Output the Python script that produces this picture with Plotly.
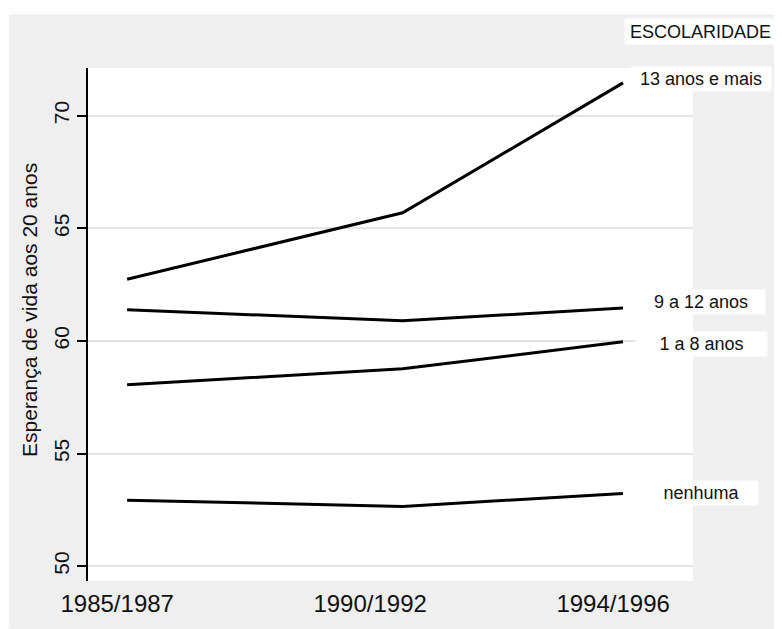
import plotly.graph_objects as go

# data
periodos = ["1985/1987", "1990/1992", "1994/1996"]
anos_meio = [1986, 1991, 1995]
series_nomes = ["13 anos e mais", "9 a 12 anos", "1 a 8 anos", "nenhuma"]
esc_13_mais = [62.74, 65.69, 71.46]
esc_9_12 = [61.38, 60.90, 61.46]
esc_1_8 = [58.05, 58.76, 59.96]
esc_nenhuma = [52.93, 52.65, 53.23]
y_ticks = [50, 55, 60, 65, 70]

OFF = 8  # page body margin
W, H = 782 - OFF, 629 - OFF
# plot area in page pixels
PL, PR, PT, PB = 88, 693, 68, 583
L, T = PL - OFF, PT - OFF
R, B = W - (PR - OFF), H - (PB - OFF)
pw, ph = W - L - R, H - T - B

def px2paper_x(px):  # page px -> paper
    return (px - OFF - L) / pw

def px2paper_y(py):
    return ((PB - OFF) - (py - OFF)) / ph

FONT = "Liberation Sans, Arial"

fig = go.Figure()
valores = [esc_13_mais, esc_9_12, esc_1_8, esc_nenhuma]
for nome, vals in zip(series_nomes, valores):
    fig.add_trace(go.Scatter(x=anos_meio, y=vals, mode="lines", name=nome,
                             line=dict(color="black", width=3), showlegend=False,
                             hoverinfo="x+y"))

# labels at the end of each line
label_w = {"13 anos e mais": 138, "9 a 12 anos": 126, "1 a 8 anos": 129, "nenhuma": 111}
label_dy = {"13 anos e mais": -4, "9 a 12 anos": -6, "1 a 8 anos": 2, "nenhuma": 0}
for nome, vals in zip(series_nomes, valores):
    fig.add_annotation(x=px2paper_x(701), xref="paper", y=vals[-1], yref="y",
                       text=nome, showarrow=False, xanchor="center", yanchor="middle",
                       yshift=-label_dy[nome], width=label_w[nome], height=22,
                       bgcolor="white", font=dict(family=FONT, size=18, color="#111"))

fig.add_annotation(x=px2paper_x(700), xref="paper", y=px2paper_y(31.5), yref="paper",
                   text="ESCOLARIDADE", showarrow=False, xanchor="center", yanchor="middle",
                   width=149, height=23, bgcolor="white",
                   font=dict(family=FONT, size=18, color="#111"))

# y axis title (placed like the reference, slightly above plot centre)
fig.add_annotation(x=px2paper_x(29), xref="paper", y=px2paper_y(311), yref="paper",
                   text="Esperança de vida aos 20 anos", showarrow=False, textangle=-90,
                   xanchor="center", yanchor="middle",
                   font=dict(family=FONT, size=21, color="#111"))

# white top strip (gray panel inset)
fig.add_shape(type="rect", xref="paper", yref="paper", layer="below",
              x0=px2paper_x(OFF), x1=px2paper_x(782), y0=px2paper_y(14), y1=px2paper_y(OFF),
              fillcolor="white", line=dict(width=0))
fig.add_shape(type="rect", xref="paper", yref="paper", layer="below",
              x0=px2paper_x(OFF), x1=px2paper_x(9), y0=px2paper_y(629), y1=px2paper_y(OFF),
              fillcolor="white", line=dict(width=0))

fig.update_layout(
    width=W, height=H,
    margin=dict(l=L, r=R, t=T, b=B, pad=0),
    paper_bgcolor="#efefef",
    plot_bgcolor="white",
    font=dict(family=FONT, color="#111"),
    xaxis=dict(range=[1985.29, 1996.27], tickmode="array",
               tickvals=[1985.82, 1990.41, 1994.82], ticktext=periodos,
               showgrid=False, zeroline=False, showline=False, ticks="",
               tickfont=dict(size=24), ticklabelstandoff=6, fixedrange=True),
    yaxis=dict(range=[49.34, 72.12], tickmode="array", tickvals=y_ticks,
               ticktext=[str(v) for v in y_ticks], tickangle=-90,
               showgrid=True, gridcolor="#e4e4e4", gridwidth=2,
               zeroline=False, showline=True, linecolor="black", linewidth=2,
               ticks="outside", ticklen=9, tickwidth=2, tickcolor="black",
               tickfont=dict(size=21), fixedrange=True),
)

fig.write_html("out.html")
